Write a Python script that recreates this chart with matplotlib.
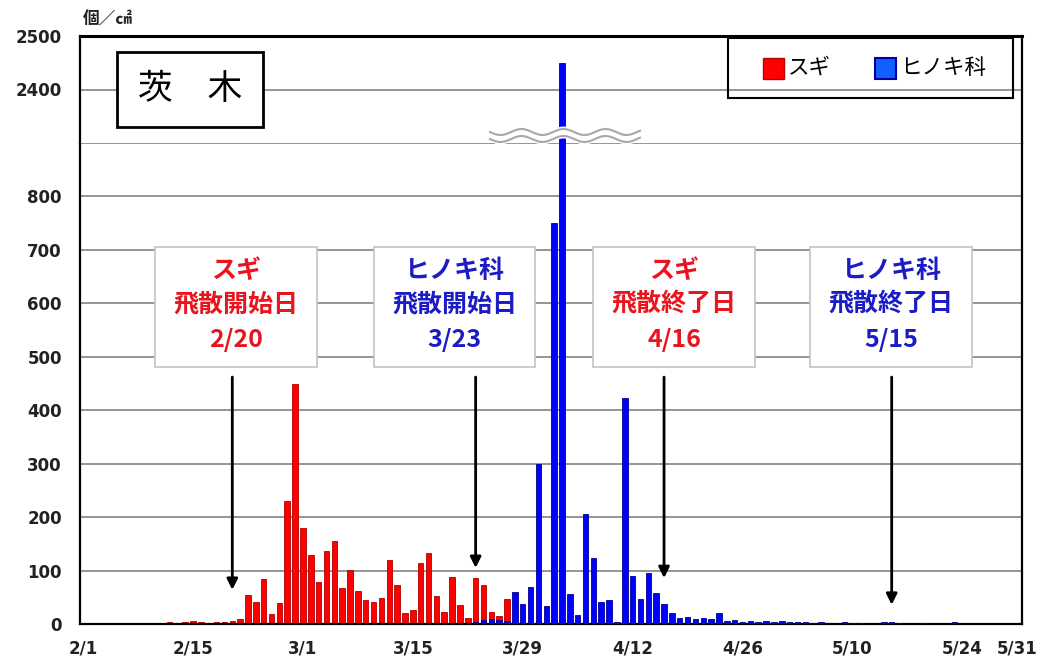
"""Daily airborne pollen counts at Ibaraki, Feb-May (broken y axis)."""

import numpy as np
import pandas as pd
import matplotlib
matplotlib.use('Agg')
import matplotlib.pyplot as plt
from matplotlib.patches import Rectangle, Polygon
from matplotlib.lines import Line2D

plt.rcParams['font.family'] = ['Noto Sans CJK JP', 'DejaVu Sans']

W, H = 1052, 668

# Daily counts from 2/1 to 5/31
dates = pd.date_range('2021-02-01', '2021-05-31', freq='D')

sugi = [
    0, 0, 0, 0, 0, 0, 0, 0, 0, 0, 0, 3, 2, 4,                  # 2/1 - 2/14
    6, 3, 2, 3, 4, 5, 9, 54, 41, 84, 19, 39, 231, 450,         # 2/15 - 2/28
    179, 129, 79, 137, 156, 67, 101, 62, 44, 41, 48, 120, 73, 20,  # 3/1 - 3/14
    27, 115, 133, 52, 22, 88, 36, 11, 86, 73, 23, 15, 46, 4,   # 3/15 - 3/28
    3, 2, 5, 2, 6, 8, 3, 2, 4, 3, 2, 2, 1, 3,                  # 3/29 - 4/11
    2, 1, 2, 1, 1, 0, 0, 0, 0, 0, 0, 0, 0, 0,                  # 4/12 - 4/25
    0, 0, 0, 0, 0, 0, 0, 0, 0, 0, 0, 0, 0, 0,                  # 4/26 - 5/9
    0, 0, 0, 0, 0, 0, 0, 0, 0, 0, 0, 0, 0, 0,                  # 5/10 - 5/23
    0, 0, 0, 0, 0, 0, 0, 0,                                    # 5/24 - 5/31
]

hinoki = [
    0, 0, 0, 0, 0, 0, 0, 0, 0, 0, 0, 0, 0, 0,                  # 2/1 - 2/14
    0, 0, 0, 0, 0, 0, 0, 0, 0, 0, 0, 0, 0, 0,                  # 2/15 - 2/28
    0, 0, 0, 0, 0, 0, 0, 0, 0, 0, 0, 0, 0, 0,                  # 3/1 - 3/14
    0, 0, 0, 0, 0, 0, 1, 2, 3, 8, 10, 8, 6, 59,                # 3/15 - 3/28
    38, 70, 300, 34, 750, 2450, 57, 17, 206, 123, 42, 45, 3, 422,  # 3/29 - 4/11
    89, 47, 96, 58, 37, 21, 11, 14, 9, 12, 9, 21, 6, 8,        # 4/12 - 4/25
    4, 5, 3, 5, 4, 5, 4, 3, 4, 1, 3, 0, 0, 3,                  # 4/26 - 5/9
    2, 1, 0, 0, 3, 4, 2, 0, 0, 2, 0, 0, 0, 3,                  # 5/10 - 5/23
    0, 0, 0, 0, 0, 0, 0, 0,                                    # 5/24 - 5/31
]

tick_labels = ['2/1', '2/15', '3/1', '3/15', '3/29', '4/12', '4/26', '5/10', '5/24', '5/31']

# Start / end of season notes
note_species = ['スギ', 'ヒノキ科', 'スギ', 'ヒノキ科']
note_kind = ['飛散開始日', '飛散開始日', '飛散終了日', '飛散終了日']
note_dates = ['2021-02-20', '2021-03-23', '2021-04-16', '2021-05-15']
note_tip = [64, 105, 86, 36]

red = '#ff0000'
blue = '#0000ff'
red_txt = '#e8141e'
blue_txt = '#1c1cc4'
grid_c = '#8c8c8c'


def fx(px):
    return px / W


def fy(py):
    return 1 - py / H


fig = plt.figure(figsize=(W / 100, H / 100), dpi=100)
ax_lo = fig.add_axes([fx(80), fy(624), fx(1022) - fx(80), fy(143) - fy(624)])
ax_hi = fig.add_axes([fx(80), fy(143), fx(1022) - fx(80), fy(36) - fy(143)])

x = np.arange(len(dates))
tick_days = [(pd.Timestamp('2021-' + t.replace('/', '-')) - dates[0]).days for t in tick_labels]

for ax in (ax_lo, ax_hi):
    ax.bar(x, sugi, width=0.7, color=red, edgecolor='#b00000', linewidth=0.6, zorder=2)
    ax.bar(x, hinoki, width=0.7, color=blue, edgecolor='#00008b', linewidth=0.6, zorder=3)
    ax.set_xlim(-0.4, 119.6)
    ax.set_axisbelow(True)
    ax.yaxis.grid(True, color=grid_c, lw=1.3)
    ax.tick_params(length=0)
    for s in ['left', 'right', 'bottom', 'top']:
        ax.spines[s].set_color('black')
        ax.spines[s].set_linewidth(1.6)

ax_lo.set_ylim(0, 900)
ax_lo.set_yticks(range(0, 900, 100))
ax_lo.spines['top'].set_color(grid_c)
ax_lo.spines['top'].set_linewidth(1.3)
ax_lo.set_xticks(tick_days)
ax_lo.set_xticklabels(tick_labels)

ax_hi.set_ylim(2300, 2500)
ax_hi.set_yticks([2400, 2500])
ax_hi.spines['bottom'].set_visible(False)
ax_hi.spines['top'].set_linewidth(2.2)
ax_hi.set_xticks([])

for ax in (ax_lo, ax_hi):
    for lab in ax.get_yticklabels():
        lab.set_fontfamily('DejaVu Sans')
        lab.set_fontweight('bold')
        lab.set_fontsize(12)
        lab.set_color('#222222')
    ax.tick_params(axis='y', pad=13)
for lab in ax_lo.get_xticklabels():
    lab.set_fontfamily('DejaVu Sans')
    lab.set_fontweight('bold')
    lab.set_fontsize(12)
    lab.set_color('#222222')
ax_lo.tick_params(axis='x', pad=11)

# annotation boxes with arrows
box_centers = [19.5, 47.3, 75.3, 102.9]
for i in range(4):
    col = red_txt if note_species[i] == 'スギ' else blue_txt
    c = box_centers[i]
    ax_lo.add_patch(Rectangle((c - 10.3, 480), 20.6, 225, facecolor='white',
                              edgecolor='#c4c4c4', lw=1.2, zorder=4))
    d = pd.Timestamp(note_dates[i])
    day = (d - dates[0]).days
    lines = [note_species[i], note_kind[i], f'{d.month}/{d.day}']
    for s, yv in zip(lines, [660, 598, 532]):
        ax_lo.text(c, yv, s, ha='center', va='center', fontsize=18,
                   weight='bold', color=col, zorder=5)
    ax_lo.annotate('', xy=(day, note_tip[i]), xytext=(day, 462),
                   arrowprops=dict(arrowstyle='-|>', color='black', lw=2,
                                   mutation_scale=16, shrinkA=0, shrinkB=0),
                   zorder=5)

# wavy break mark
wx = np.linspace(490, 640, 300)
w1 = 132 + 3 * np.sin(2 * np.pi * (wx - 490) / 42)
w2 = w1 + 7
band = np.column_stack([np.r_[wx, wx[::-1]], np.r_[w1 - 2.5, (w2 + 2.5)[::-1]]])
fig.add_artist(Polygon(np.column_stack([fx(band[:, 0]), fy(band[:, 1])]),
                       closed=True, facecolor='white', edgecolor='none',
                       transform=fig.transFigure, zorder=5))
for wy in (w1, w2):
    fig.add_artist(Line2D(fx(wx), fy(wy), color='#a8a8a8', lw=1.5,
                          transform=fig.transFigure, zorder=6))

# title box
fig.add_artist(Rectangle((fx(117), fy(127)), fx(263) - fx(117), fy(52) - fy(127),
                         facecolor='white', edgecolor='black', lw=2,
                         transform=fig.transFigure, zorder=5))
fig.text(fx(190), fy(90), '茨　木', ha='center', va='center', fontsize=25,
         color='black', zorder=6)

# legend
fig.add_artist(Rectangle((fx(728), fy(98)), fx(1013) - fx(728), fy(38) - fy(98),
                         fill=False, edgecolor='black', lw=1.5,
                         transform=fig.transFigure, zorder=5))
fig.add_artist(Rectangle((fx(763), fy(79)), fx(21), fx(21) * W / H,
                         facecolor=red, edgecolor='#c00000', lw=1,
                         transform=fig.transFigure, zorder=6))
fig.add_artist(Rectangle((fx(875), fy(79)), fx(21), fx(21) * W / H,
                         facecolor='#1060ff', edgecolor='#0000a0', lw=1.5,
                         transform=fig.transFigure, zorder=6))
fig.text(fx(788), fy(68), 'スギ', ha='left', va='center', fontsize=15.5, zorder=6)
fig.text(fx(900), fy(68), 'ヒノキ科', ha='left', va='center', fontsize=15.5, zorder=6)

# unit label
fig.text(fx(83), fy(19), '個／㎠', ha='left', va='center', fontsize=12,
         weight='bold', color='#222222')

fig.savefig('out.png', dpi=100)
